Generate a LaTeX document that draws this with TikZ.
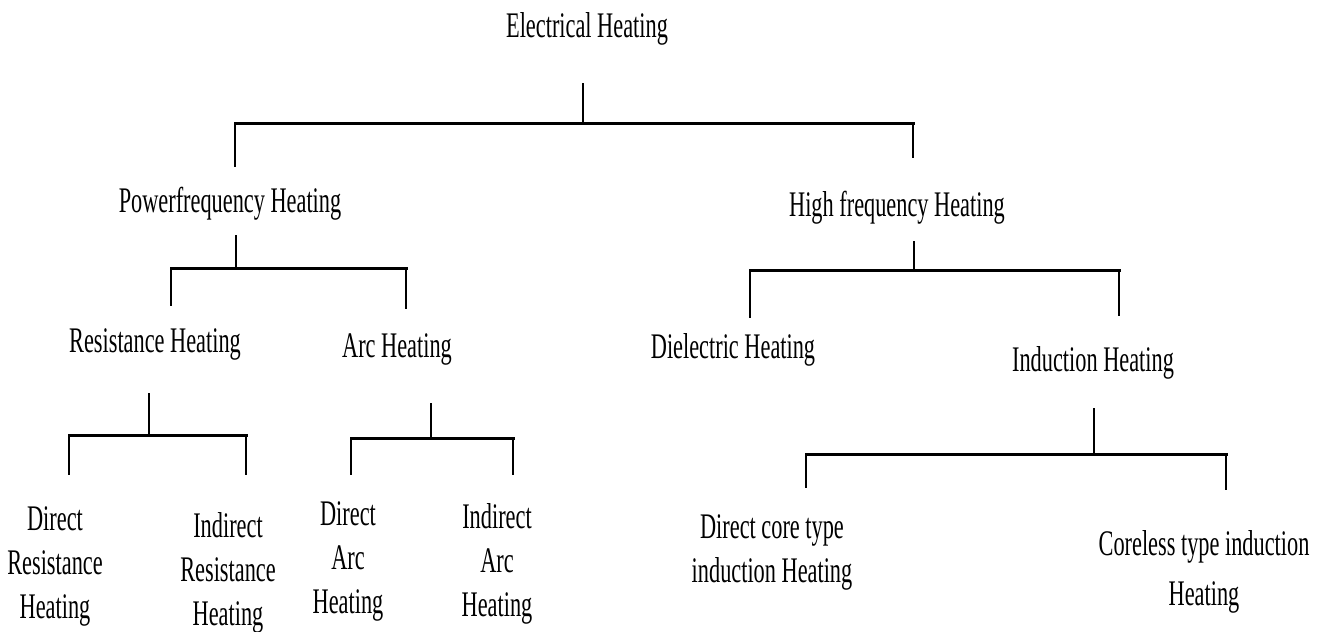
\documentclass[tikz,border=0pt]{standalone}
\usepackage{graphicx}
\usepackage{fontspec}
\setmainfont{Liberation Serif}
% narrow, possibly multi-line label text
\newcommand{\cond}[1]{\scalebox{0.62}[1]{\begin{tabular}[t]{@{}c@{}}#1\end{tabular}}}
\begin{document}
\begin{tikzpicture}[x=1pt,y=-1pt,
  lbl/.style={inner sep=0pt,anchor=base,font=\fontsize{36}{44}\selectfont},
  wire/.style={line width=2pt},
  rail/.style={line width=3pt,line cap=rect}]
\useasboundingbox[fill=white] (0,0) rectangle (1323,632);

% ---- labels ----
\node[lbl] (root)  at (587,37)  {\cond{Electrical Heating}};
\node[lbl] (pf)    at (230,212) {\cond{Powerfrequency Heating}};
\node[lbl] (hf)    at (897,216) {\cond{High frequency Heating}};
\node[lbl] (res)   at (155,352) {\cond{Resistance Heating}};
\node[lbl] (arc)   at (397,357) {\cond{Arc Heating}};
\node[lbl] (die)   at (733,358) {\cond{Dielectric Heating}};
\node[lbl] (ind)   at (1093,371) {\cond{Induction Heating}};
\node[lbl] (dres)  at (55,530)  {\cond{Direct\\Resistance\\Heating}};
\node[lbl] (ires)  at (228,537) {\cond{Indirect\\Resistance\\Heating}};
\node[lbl] (darc)  at (348,525) {\cond{Direct\\Arc\\Heating}};
\node[lbl] (iarc)  at (497,528) {\cond{Indirect\\Arc\\Heating}};
\node[lbl] (dcore) at (772,538) {\cond{Direct core type\\induction Heating}};
\node[lbl] (cless) at (1204,555) {\cond{Coreless type induction\\[6pt]Heating}};

% ---- Electrical Heating fork ----
\coordinate (b0) at (583,123);
\coordinate (l0) at (235,123);  \coordinate (r0) at (913,123);
\coordinate (e0l) at (235,167); \coordinate (e0r) at (913,158);
\draw[wire] (root.south -| b0) ++(0,33) -- (b0);
\draw[rail] (l0) -- (r0);
\draw[wire] (l0) -- (e0l);
\draw[wire] (r0) -- (e0r);

% ---- Powerfrequency fork ----
\coordinate (b1) at (236,268);
\coordinate (l1) at (171,268);  \coordinate (r1) at (406,268);
\coordinate (e1l) at (171,306); \coordinate (e1r) at (406,309);
\draw[wire] (pf.south -| b1) ++(0,10) -- (b1);
\draw[rail] (l1) -- (r1);
\draw[wire] (l1) -- (e1l);
\draw[wire] (r1) -- (e1r);

% ---- High frequency fork ----
\coordinate (b2) at (914,270);
\coordinate (l2) at (750,270);  \coordinate (r2) at (1119,270);
\coordinate (e2l) at (750,318); \coordinate (e2r) at (1119,316);
\draw[wire] (hf.south -| b2) ++(0,12) -- (b2);
\draw[rail] (l2) -- (r2);
\draw[wire] (l2) -- (e2l);
\draw[wire] (r2) -- (e2r);

% ---- Resistance fork ----
\coordinate (b3) at (149,435);
\coordinate (l3) at (69,435);   \coordinate (r3) at (246,435);
\coordinate (e3l) at (69,475);  \coordinate (e3r) at (246,475);
\draw[wire] (res.south -| b3) ++(0,28) -- (b3);
\draw[rail] (l3) -- (r3);
\draw[wire] (l3) -- (e3l);
\draw[wire] (r3) -- (e3r);

% ---- Arc fork ----
\coordinate (b4) at (431,438);
\coordinate (l4) at (351,438);  \coordinate (r4) at (513,438);
\coordinate (e4l) at (351,475); \coordinate (e4r) at (513,475);
\draw[wire] (arc.south -| b4) ++(0,33) -- (b4);
\draw[rail] (l4) -- (r4);
\draw[wire] (l4) -- (e4l);
\draw[wire] (r4) -- (e4r);

% ---- Induction fork ----
\coordinate (b5) at (1094,454);
\coordinate (l5) at (806,454);  \coordinate (r5) at (1226,454);
\coordinate (e5l) at (806,488); \coordinate (e5r) at (1226,490);
\draw[wire] (ind.south -| b5) ++(0,24) -- (b5);
\draw[rail] (l5) -- (r5);
\draw[wire] (l5) -- (e5l);
\draw[wire] (r5) -- (e5r);
\end{tikzpicture}
\end{document}
